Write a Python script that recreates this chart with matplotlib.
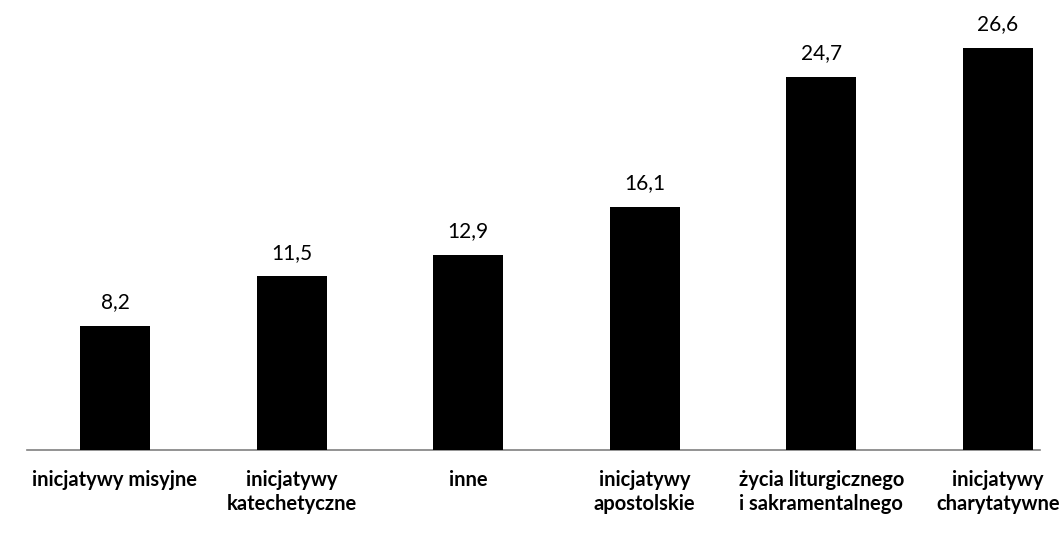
import matplotlib
matplotlib.use("Agg")
import matplotlib.pyplot as plt

categories = ["inicjatywy misyjne", "inicjatywy\nkatechetyczne", "inne",
              "inicjatywy\napostolskie", "życia liturgicznego\ni sakramentalnego",
              "inicjatywy\ncharytatywne"]
values = [8.2, 11.5, 12.9, 16.1, 24.7, 26.6]
value_labels = ["8,2", "11,5", "12,9", "16,1", "24,7", "26,6"]

W, H = 1063, 534
fig = plt.figure(figsize=(W / 100, H / 100), dpi=100)
slot = 176.6
left_px = 115 - slot / 2
right_px = left_px + slot * 6
base_px = 450
top_px = 48
ymax = 26.6 * (base_px - 0) / (base_px - top_px)
ax = fig.add_axes([left_px / W, (H - base_px) / H, (right_px - left_px) / W, base_px / H])
ax.set_xlim(-0.5, 5.5)
ax.set_ylim(0, ymax)
x = list(range(len(values)))
ax.bar(x, values, width=70 / slot, color="black", zorder=3)
ax.plot([-0.5, 5.24], [0, 0], color="#808080", lw=1.2, clip_on=False, zorder=2)
for xi, v, lab in zip(x, values, value_labels):
    ax.text(xi, v + 0.9, lab, ha="center", va="bottom", fontsize=15,
            family="Lato", color="black")
for xi, c in zip(x, categories):
    ax.text(xi, -1.3, c, ha="center", va="top", fontsize=14.5, family="Lato",
            fontweight="bold", linespacing=1.25, color="black")
for s in ax.spines.values():
    s.set_visible(False)
ax.set_xticks([])
ax.set_yticks([])
fig.savefig("out.png", dpi=100)
